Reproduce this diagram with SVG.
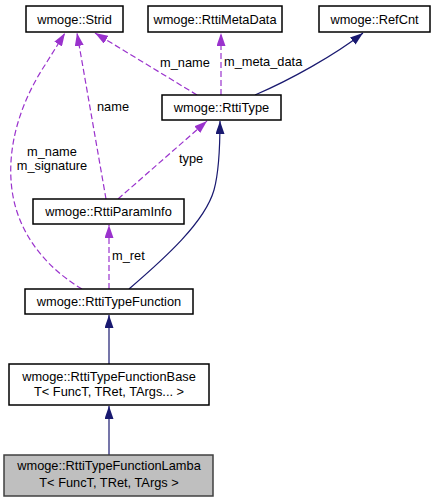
<svg xmlns="http://www.w3.org/2000/svg" width="435" height="501" viewBox="0 0 435 501">
<style>
.box{fill:#ffffff;stroke:#000000;stroke-width:1.5}
.cur{fill:#bfbfbf;stroke:#404040;stroke-width:1.5}
text{font-family:"Liberation Sans",Arial,Helvetica,sans-serif;font-size:12.8px;fill:#000000}
.c{text-anchor:middle}
.inh{fill:none;stroke:#191970;stroke-width:1.2}
.use{fill:none;stroke:#9a32cd;stroke-width:1.2;stroke-dasharray:6,3}
</style>
<defs>
<marker id="an" viewBox="0 0 13 9" refX="13" refY="4.5" markerWidth="13" markerHeight="9" markerUnits="userSpaceOnUse" orient="auto">
<path d="M0,0 L13,4.5 L0,9 Z" fill="#191970"/>
</marker>
<marker id="ap" viewBox="0 0 13 9" refX="13" refY="4.5" markerWidth="13" markerHeight="9" markerUnits="userSpaceOnUse" orient="auto">
<path d="M0,0 L13,4.5 L0,9 Z" fill="#9a32cd"/>
</marker>
</defs>
<rect width="435" height="501" fill="#ffffff"/>
<g id="edges">
<path class="inh" d="M109,455 L109,406" marker-end="url(#an)"/>
<path class="inh" d="M109,364 L109,315" marker-end="url(#an)"/>
<path class="use" d="M109,289 L109,225" marker-end="url(#ap)"/>
<text x="112" y="260">m_ret</text>
<path class="inh" d="M129,289 C165,258 205,222 214,190 C219,172 220,150 220,121" marker-end="url(#an)"/>
<path class="use" d="M118,199 L207,121" marker-end="url(#ap)"/>
<text x="179" y="163">type</text>
<path class="use" d="M106,199 L77,33" marker-end="url(#ap)"/>
<text x="97" y="111">name</text>
<path class="use" d="M82,289 C48,269 18,235 12,190 C6,145 22,100 45,65 L65,33" marker-end="url(#ap)"/>
<text class="c" x="52" y="156">m_name</text>
<text class="c" x="52" y="170">m_signature</text>
<path class="use" d="M197,95 L95,33" marker-end="url(#ap)"/>
<text class="c" x="185" y="67">m_name</text>
<path class="use" d="M221,95 L221,33" marker-end="url(#ap)"/>
<text x="224" y="66">m_meta_data</text>
<path class="inh" d="M255,95 C290,80 335,55 363,33" marker-end="url(#an)"/>
</g>
<g id="node_strid">
<rect class="box" x="26" y="6" width="97" height="26"/>
<text class="c" x="74.5" y="23.5">wmoge::Strid</text>
</g>
<g id="node_metadata">
<rect class="box" x="148" y="6" width="134" height="26"/>
<text class="c" x="215" y="23.5">wmoge::RttiMetaData</text>
</g>
<g id="node_refcnt">
<rect class="box" x="319" y="6" width="111" height="26"/>
<text class="c" x="374.5" y="23.5">wmoge::RefCnt</text>
</g>
<g id="node_rttitype">
<rect class="box" x="162" y="95" width="119" height="25"/>
<text class="c" x="221.5" y="112">wmoge::RttiType</text>
</g>
<g id="node_paraminfo">
<rect class="box" x="33" y="199" width="151" height="25"/>
<text class="c" x="108.5" y="216">wmoge::RttiParamInfo</text>
</g>
<g id="node_typefunction">
<rect class="box" x="25" y="289" width="168" height="25"/>
<text class="c" x="109" y="306">wmoge::RttiTypeFunction</text>
</g>
<g id="node_functionbase">
<rect class="box" x="9" y="364" width="200" height="41"/>
<text class="c" x="109" y="381">wmoge::RttiTypeFunctionBase</text>
<text class="c" x="109" y="396">T&lt; FuncT, TRet, TArgs... &gt;</text>
</g>
<g id="node_lamba">
<rect class="cur" x="4" y="455" width="209" height="41"/>
<text class="c" x="109" y="470">wmoge::RttiTypeFunctionLamba</text>
<text class="c" x="109" y="487">T&lt; FuncT, TRet, TArgs &gt;</text>
</g>
</svg>
